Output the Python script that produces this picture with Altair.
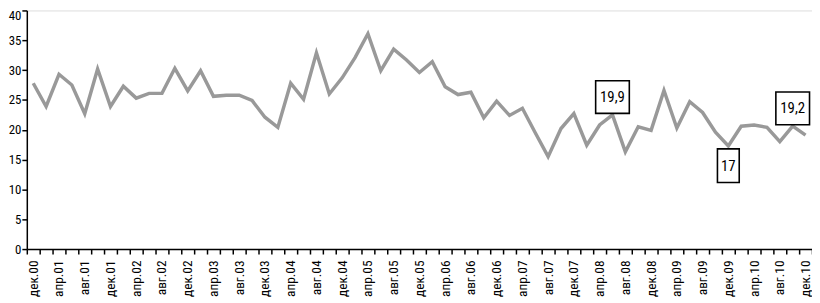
import altair as alt
import pandas as pd

# bimonthly observations, Dec 2000 .. Dec 2010
values = [27.8, 23.9, 29.3, 27.5, 22.7, 30.2, 23.9, 27.3, 25.3, 26.1,
          26.1, 30.3, 26.5, 29.9, 25.6, 25.8, 25.8, 24.9, 22.1, 20.4,
          27.8, 25.1, 32.9, 26.0, 28.7, 32.1, 36.1, 29.9, 33.5, 31.7,
          29.6, 31.4, 27.2, 25.9, 26.3, 22.0, 24.8, 22.4, 23.6, 19.5,
          15.5, 20.2, 22.7, 17.4, 20.8, 22.5, 16.3, 20.5, 19.9, 26.6,
          20.3, 24.7, 22.9, 19.6, 17.3, 20.6, 20.8, 20.4, 18.0, 20.6,
          19.1]

tick_labels = ["дек.00", "апр.01", "авг.01", "дек.01", "апр.02", "авг.02",
               "дек.02", "апр.03", "авг.03", "дек.03", "апр.04", "авг.04",
               "дек.04", "апр.05", "авг.05", "дек.05", "апр.06", "авг.06",
               "дек.06", "апр.07", "авг.07", "дек.07", "апр.08", "авг.08",
               "дек.08", "апр.09", "авг.09", "дек.09", "апр.10", "авг.10",
               "дек.10"]

y_ticks = [0, 5, 10, 15, 20, 25, 30, 35, 40]

ann_above_idx = [45, 59]
ann_above_text = ["19,9", "19,2"]
ann_below_idx = [54]
ann_below_text = ["17"]

FONT = "Liberation Sans Narrow, Arial Narrow, Roboto Condensed, DejaVu Sans Condensed, Liberation Sans, sans-serif"

n = len(values)
df = pd.DataFrame({"i": list(range(n)), "v": values})
above = pd.DataFrame({"i": ann_above_idx,
                      "v": [values[k] for k in ann_above_idx],
                      "t": ann_above_text})
below = pd.DataFrame({"i": ann_below_idx,
                      "v": [values[k] for k in ann_below_idx],
                      "t": ann_below_text})

arr = "[" + ",".join("'" + s + "'" for s in tick_labels) + "]"
label_expr = f"{arr}[round(datum.value / 2)]"

xscale = alt.Scale(domain=[-0.5, n - 0.5], nice=False, zero=False)
yscale = alt.Scale(domain=[0, 40], nice=False)

# axis with tick marks at category boundaries
xaxis_ticks = alt.Axis(
    orient="bottom",
    values=[k - 0.5 for k in range(n + 1)],
    labels=False,
    tickSize=5,
    tickColor="black",
    tickWidth=1.5,
    domainColor="black",
    domainWidth=1.5,
    grid=False,
    title=None,
)
# axis with labels at every second category centre
xaxis_labels = alt.Axis(
    orient="bottom",
    values=list(range(0, n, 2)),
    labelExpr=label_expr,
    labelAngle=-90,
    labelAlign="right",
    labelBaseline="middle",
    labelPadding=11,
    labelOverlap=False,
    labelBound=False,
    labelFlush=False,
    ticks=False,
    domain=False,
    labelFont=FONT,
    labelFontSize=13.5,
    labelColor="black",
    grid=False,
    title=None,
)
yaxis = alt.Axis(
    values=y_ticks,
    tickSize=5,
    tickColor="black",
    tickWidth=1.5,
    domainColor="black",
    domainWidth=1.5,
    labelFont=FONT,
    labelFontSize=13,
    labelColor="black",
    labelPadding=1,
    labelOverlap=False,
    labelOffset={"condition": {"test": "datum.value == 40", "value": 5}, "value": 0},
    grid=False,
    title=None,
)

X_MAIN = alt.X("i:Q", scale=xscale, axis=xaxis_ticks)
Y_ENC = alt.Y("v:Q", scale=yscale, axis=yaxis)

line = alt.Chart(df).mark_line(color="#999999", strokeWidth=3.5).encode(
    x=X_MAIN, y=Y_ENC)


def ann_layers(data, w, h, dy):
    box = alt.Chart(data).mark_rect(
        width=w, height=h, yOffset=dy, fill="white",
        stroke="black", strokeWidth=1.6
    ).encode(x=X_MAIN, y=Y_ENC)
    txt = alt.Chart(data).mark_text(
        yOffset=dy, font=FONT, fontSize=15, color="black",
        align="center", baseline="middle"
    ).encode(x=X_MAIN, y=Y_ENC, text="t:N")
    return [box, txt]


main = alt.layer(
    line,
    *ann_layers(above, 34, 33, -18),
    *ann_layers(below, 22, 34, 20),
)

label_layer = alt.Chart(df).mark_line(opacity=0).encode(
    x=alt.X("i:Q", scale=xscale, axis=xaxis_labels),
    y=Y_ENC)

chart = alt.layer(main, label_layer).resolve_axis(x="independent").properties(
    width=793,
    height=241,
    autosize=alt.AutoSizeParams(type="none"),
    padding={"left": 19, "top": 1, "right": 0, "bottom": 53},
).configure_view(stroke=None).configure(background="white")

chart.save("out.html", embed_options={"renderer": "svg", "actions": False})
